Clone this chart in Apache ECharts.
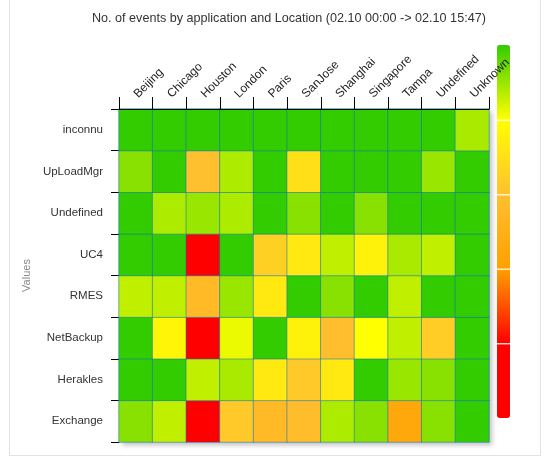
<!DOCTYPE html>
<html>
<head>
<meta charset="utf-8">
<script src="https://cdn.jsdelivr.net/npm/echarts@6/dist/echarts.min.js"></script>
<style>
  html, body { margin: 0; padding: 0; background: #fff; }
  #frame { position: absolute; left: 9px; top: -2px; width: 530px; height: 456px; border: 1px solid #e3e3e3; }
  #chart { position: absolute; left: 0; top: 0; width: 546px; height: 460px; }
</style>
</head>
<body>
<div id="frame"></div>
<div id="chart"></div>
<script>
// Locations (x axis, left to right)
const locations = ['Beijing', 'Chicago', 'Houston', 'London', 'Paris', 'SanJose', 'Shanghai', 'Singapore', 'Tampa', 'Undefined', 'Unknown'];
// Applications (y axis, bottom to top)
const applications = ['Exchange', 'Herakles', 'NetBackup', 'RMES', 'UC4', 'Undefined', 'UpLoadMgr', 'inconnu'];

// Estimated values per application (0 = green ... 100 = red), in location order
const rowExchange  = [8.3, 13.8, 90, 37, 44, 42, 12, 8.3, 55, 8.3, 0];
const rowHerakles  = [0, 0, 13.8, 11.7, 27, 37, 27, 0, 10, 8.3, 0];
const rowNetBackup = [0, 23, 90, 18, 0, 24, 41, 20, 13.8, 36, 0];
const rowRMES      = [13.8, 13.8, 44, 10, 27, 0, 8.3, 0, 13.8, 0, 0];
const rowUC4       = [0, 0, 90, 0, 35, 27, 13.8, 24, 11.7, 13.8, 0];
const rowUndefined = [0, 12, 10, 12, 0, 8.3, 0, 8.3, 0, 0, 0];
const rowUpLoadMgr = [8.3, 0, 40, 12, 0, 30, 0, 0, 0, 10, 0];
const rowInconnu   = [0, 0, 0, 0, 0, 0, 0, 0, 0, 0, 11.7];

const rows = [rowExchange, rowHerakles, rowNetBackup, rowRMES, rowUC4, rowUndefined, rowUpLoadMgr, rowInconnu];

const data = [];
rows.forEach((row, yi) => row.forEach((v, xi) => data.push([xi, yi, v])));

const chart = echarts.init(document.getElementById('chart'), null, { renderer: 'canvas' });
const font = 'Arial, "Liberation Sans", sans-serif';

chart.setOption({
  animation: false,
  backgroundColor: 'transparent',
  title: {
    text: 'No. of events by application and Location (02.10 00:00 -> 02.10 15:47)',
    left: 92,
    top: 12,
    padding: 0,
    textStyle: { fontSize: 12.6, fontWeight: 'normal', color: '#333', fontFamily: font }
  },
  grid: {
    left: 119, top: 109, right: 57, bottom: 18,
    show: true, backgroundColor: '#fff', borderWidth: 0,
    shadowColor: 'rgba(0,0,0,0.25)', shadowBlur: 5, shadowOffsetX: 3, shadowOffsetY: 3
  },
  xAxis: {
    type: 'category',
    position: 'top',
    z: 10,
    data: locations,
    axisLine: { show: true, lineStyle: { color: '#000', width: 1 } },
    axisTick: { show: true, length: 12, lineStyle: { color: '#000' } },
    axisLabel: { rotate: -45, margin: 13, fontSize: 12, color: '#222', fontFamily: font, interval: 0 },
    splitLine: { show: false }
  },
  yAxis: {
    type: 'category',
    data: applications,
    name: 'Values',
    nameLocation: 'middle',
    nameGap: 73,
    nameTextStyle: { color: '#888', fontSize: 11, fontFamily: font },
    axisLine: { show: true, lineStyle: { color: '#000', width: 1 } },
    axisTick: { show: true, length: 8, lineStyle: { color: '#000' } },
    axisLabel: { margin: 16, fontSize: 11.5, color: '#333', fontFamily: font, interval: 0 },
    splitLine: { show: false }
  },
  visualMap: {
    type: 'continuous',
    z: 2,
    min: 0,
    max: 100,
    inverse: true,
    calculable: false,
    showLabel: false,
    text: null,
    left: 497,
    top: 45,
    padding: 0,
    itemWidth: 13,
    itemHeight: 373,
    inRange: { color: ['#33cc00', '#ffff00', '#ffc030', '#ffa000', '#ff0000', '#ff0000'] }
  },
  graphic: [
    { type: 'rect', shape: { x: 497, y: 119.5, width: 13, height: 1.5 }, style: { fill: 'rgba(255,255,255,0.8)' }, z: 3 },
    { type: 'rect', shape: { x: 497, y: 194, width: 13, height: 1.5 }, style: { fill: 'rgba(255,255,255,0.8)' }, z: 3 },
    { type: 'rect', shape: { x: 497, y: 268.5, width: 13, height: 1.5 }, style: { fill: 'rgba(255,255,255,0.8)' }, z: 3 },
    { type: 'rect', shape: { x: 497, y: 343, width: 13, height: 1.5 }, style: { fill: 'rgba(255,255,255,0.8)' }, z: 3 }
  ],
  series: [{
    type: 'heatmap',
    data: data,
    itemStyle: { borderColor: 'rgba(0,110,200,0.5)', borderWidth: 1 },
    emphasis: { disabled: true },
    label: { show: false }
  }]
});
</script>
</body>
</html>
